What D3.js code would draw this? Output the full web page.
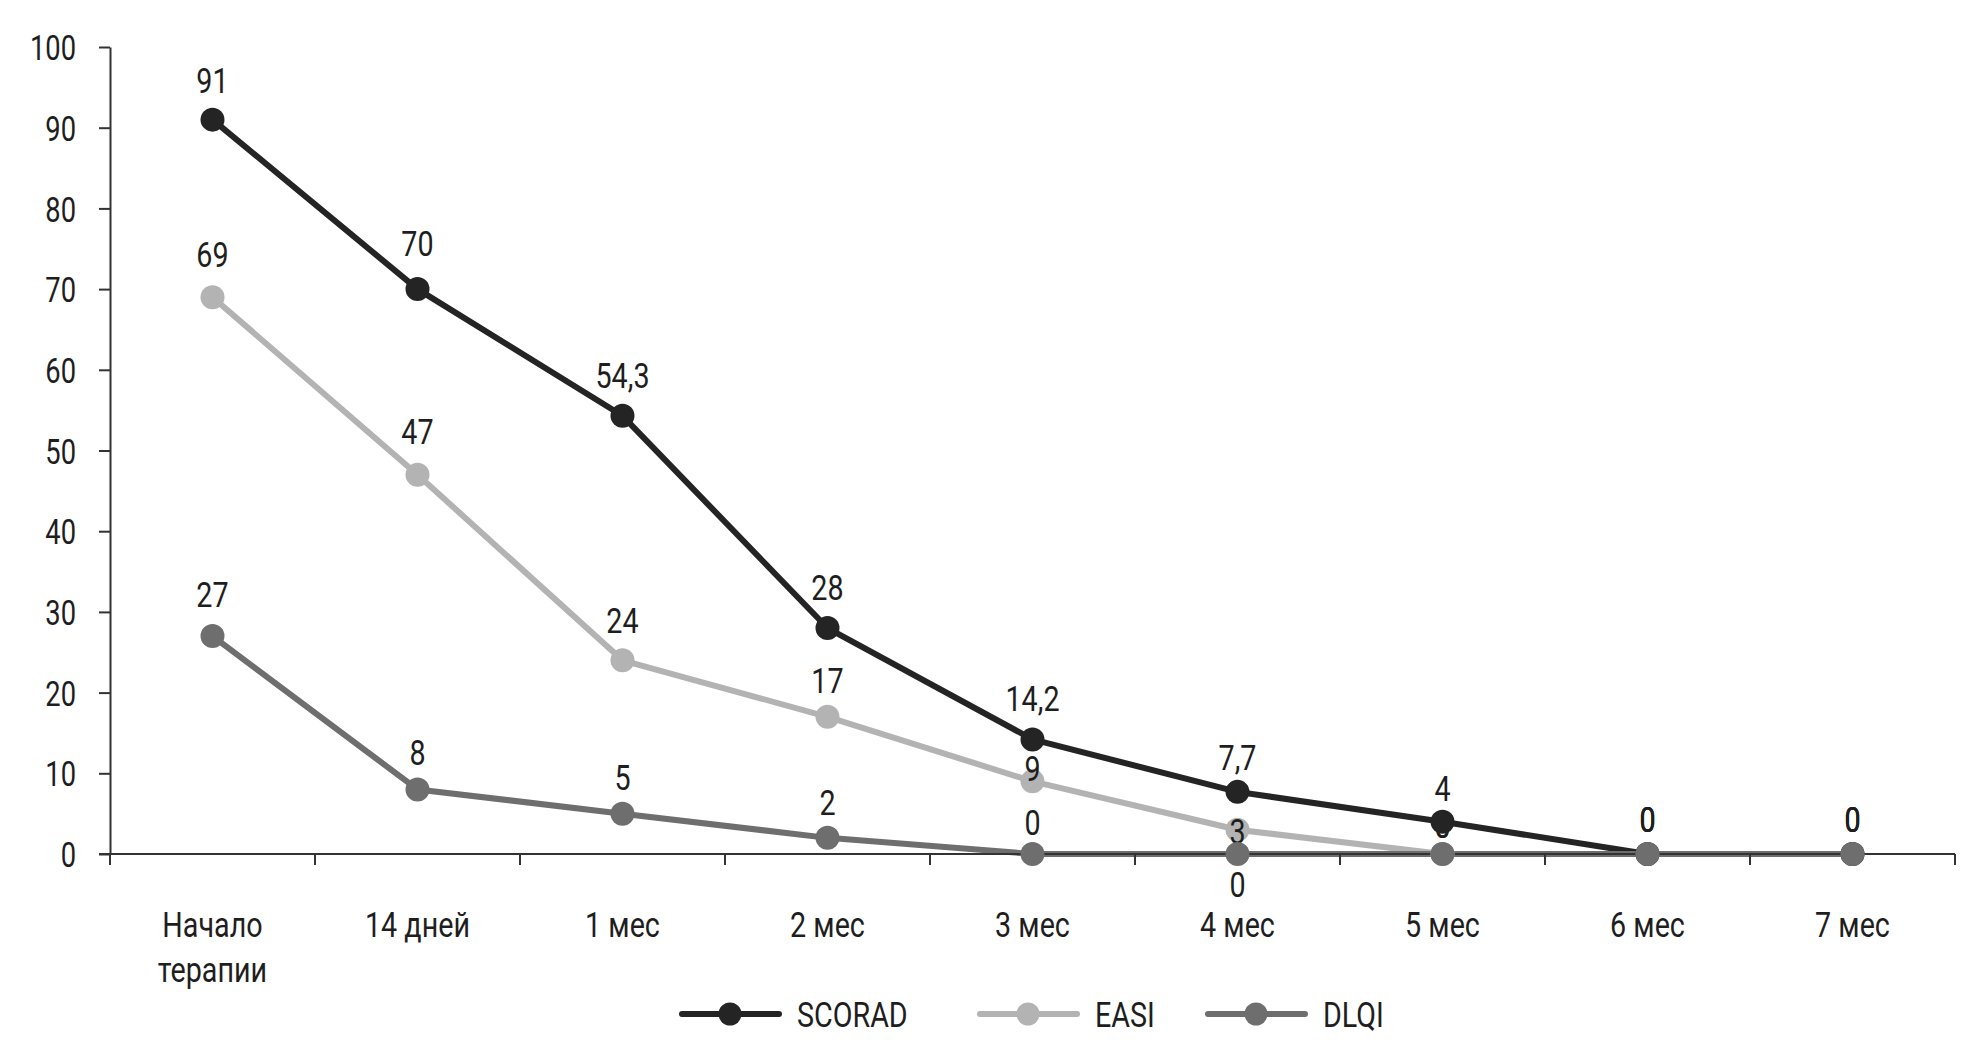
<!DOCTYPE html>
<html>
<head>
<meta charset="utf-8">
<script src="https://cdn.jsdelivr.net/npm/d3@7"></script>
<style>
  html, body { margin: 0; padding: 0; background: #fff; }
  svg text { font-family: Roboto, "DejaVu Sans Condensed", sans-serif; font-weight: 400; fill: #1e1e1e; }
</style>
</head>
<body>
<svg id="chart" width="1983" height="1053"></svg>
<script>
// ---- data ----
const categories = ["Начало\nтерапии", "14 дней", "1 мес", "2 мес", "3 мес", "4 мес", "5 мес", "6 мес", "7 мес"];
const scorad = [91, 70, 54.3, 28, 14.2, 7.7, 4, 0, 0];
const easi   = [69, 47, 24, 17, 9, 3, 0, 0, 0];
const dlqi   = [27, 8, 5, 2, 0, 0, 0, 0, 0];
const yTicks = [0, 10, 20, 30, 40, 50, 60, 70, 80, 90, 100];
const seriesNames = ["SCORAD", "EASI", "DLQI"];

// ---- layout / style ----
const colors = { SCORAD: "#242424", EASI: "#b3b3b3", DLQI: "#6e6e6e" };
// label baseline offset above point centre (negative = below), per series/point
const labelDy = {
  SCORAD: [27, 33, 28, 28, 28, 22, 21, 22, 22],
  EASI:   [30, 31, 27, 24, 0, -14, 16, 22, 22],
  DLQI:   [29, 24, 24, 23, 19, -43, 16, 22, 22]
};
const K = 0.82;      // horizontal condensing of text (reference uses a condensed face)
const KY = 0.78;

// scale text horizontally about its anchor point
function condense(sel, k) {
  sel.each(function() {
    const t = d3.select(this);
    const ax = +t.attr("x") || 0;
    t.attr("transform", `translate(${ax * (1 - k)},0) scale(${k},1)`);
  });
}

const svg = d3.select("#chart");
const mLeft = 110, mRight = 1955, mTop = 47, mBottom = 854;

const x = d3.scaleBand().domain(d3.range(categories.length)).range([mLeft, mRight]);
const y = d3.scaleLinear().domain([0, 100]).range([mBottom, mTop]);
const cx = i => x(i) + x.bandwidth() / 2;

const series = [
  { name: "SCORAD", values: scorad },
  { name: "EASI", values: easi },
  { name: "DLQI", values: dlqi }
];
const byName = n => series.find(s => s.name === n);
const fmt = v => String(v).replace(".", ",");

const line = d3.line().x((d, i) => cx(i)).y(d => y(d));

// lines
const gLines = svg.append("g");
["EASI", "SCORAD", "DLQI"].forEach(n => {
  gLines.append("path")
    .datum(byName(n).values)
    .attr("d", line)
    .attr("fill", "none")
    .attr("stroke", colors[n])
    .attr("stroke-width", 6)
    .attr("stroke-linejoin", "round");
});

// axes
const yAxis = d3.axisLeft(y).tickValues(yTicks).tickSize(11).tickPadding(23).tickSizeOuter(0);
const gy = svg.append("g").attr("transform", `translate(${mLeft},0)`).call(yAxis);
gy.attr("font-family", null).attr("font-size", null);
gy.select(".domain").attr("stroke", "#333").attr("stroke-width", 2);
gy.selectAll(".tick line").attr("stroke", "#333").attr("stroke-width", 2);
gy.selectAll(".tick text").attr("font-size", 35).attr("dy", "0.36em").attr("fill", "#1e1e1e").call(condense, KY);

const xAxis = d3.axisBottom(x).tickSize(0).tickFormat(() => "");
const gx = svg.append("g").attr("transform", `translate(0,${mBottom})`).call(xAxis);
gx.attr("font-family", null).attr("font-size", null);
gx.select(".domain").attr("d", `M${mLeft - 11},0H${mRight}`).attr("stroke", "#333").attr("stroke-width", 2);
const bounds = d3.range(categories.length + 1).map(i => mLeft + i * x.bandwidth());
gx.selectAll(".bt").data(bounds).enter().append("line")
  .attr("x1", d => d).attr("x2", d => d).attr("y1", 0).attr("y2", 11)
  .attr("stroke", "#333").attr("stroke-width", 2);
gx.selectAll(".cl").data(categories).enter().append("text")
  .attr("text-anchor", "middle")
  .attr("font-size", 35)
  .attr("x", (d, i) => cx(i))
  .each(function(d, i) {
    const parts = d.split("\n");
    const t = d3.select(this);
    parts.forEach((l, k) => {
      t.append("tspan").attr("x", cx(i)).attr("y", 83 + k * 45).text(l);
    });
  })
  .call(condense, K);

// markers and labels in layered order
function markers(n) {
  svg.append("g").selectAll("circle").data(byName(n).values).enter().append("circle")
    .attr("cx", (d, i) => cx(i)).attr("cy", d => y(d)).attr("r", 12)
    .attr("fill", colors[n]);
}
function labels(n) {
  svg.append("g").selectAll("text").data(byName(n).values).enter().append("text")
    .attr("x", (d, i) => cx(i))
    .attr("y", (d, i) => y(d) - labelDy[n][i])
    .attr("text-anchor", "middle")
    .attr("font-size", 35)
    .text(d => fmt(d))
    .call(condense, K);
}
markers("EASI");
labels("EASI");
labels("DLQI");
markers("SCORAD");
labels("SCORAD");
markers("DLQI");

// legend
const legendX = { SCORAD: 682, EASI: 980, DLQI: 1208 };
const legendY = 1014;
const gl = svg.append("g");
seriesNames.forEach(n => {
  const x0 = legendX[n];
  gl.append("line").attr("x1", x0).attr("x2", x0 + 97).attr("y1", legendY).attr("y2", legendY)
    .attr("stroke", colors[n]).attr("stroke-width", 6).attr("stroke-linecap", "round");
  gl.append("circle").attr("cx", x0 + 48).attr("cy", legendY).attr("r", 11.5).attr("fill", colors[n]);
  gl.append("text").attr("x", x0 + 115).attr("y", legendY + 13).attr("font-size", 35).text(n)
    .call(condense, K);
});
</script>
</body>
</html>
